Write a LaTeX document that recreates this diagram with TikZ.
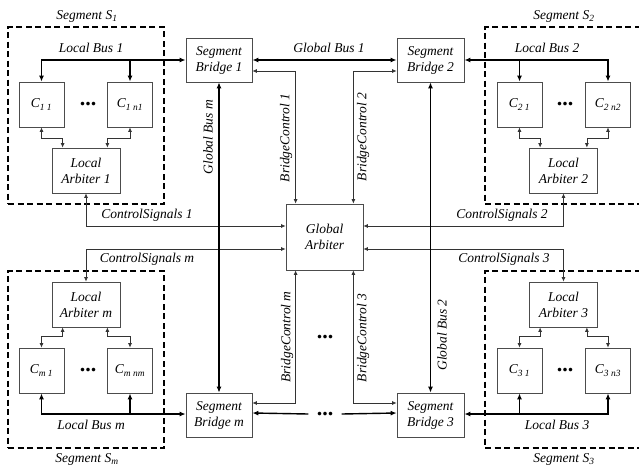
\documentclass[tikz,border=0pt]{standalone}
\usepackage{fontspec}
\setmainfont{Liberation Serif}
\usetikzlibrary{arrows.meta,calc}
\begin{document}
\begin{tikzpicture}[x=1pt,y=-1pt,
  font=\fontsize{13.5}{16}\selectfont\itshape,
  box/.style={draw=black!70, line width=0.8pt, align=center, inner sep=0pt},
  cbox/.style={box, minimum width=45pt, minimum height=45pt},
  labox/.style={box, minimum width=68pt, minimum height=45pt},
  sbox/.style={box, minimum width=66pt, minimum height=44pt},
  seg/.style={draw, line width=1.4pt, dash pattern=on 6pt off 3.5pt, inner sep=0pt},
  lbl/.style={inner sep=1pt},
  thickln/.style={line width=1.4pt, >={Latex[length=6pt,width=5pt]}},
  gbus/.style={line width=1.1pt, >={Latex[length=6pt,width=5pt]}},
  thinln/.style={line width=0.7pt, draw=black!80, >={Latex[length=4.5pt,width=4pt]}},
  dotsn/.style={inner sep=0pt, font=\fontsize{22}{22}\selectfont\bfseries\upshape}
]
\useasboundingbox (0,0) rectangle (639,466);
\clip (0,0) rectangle (639,466);

% segment frames
\node[seg, minimum width=156pt, minimum height=177pt] (S1) at (86,115.5) {};
\node[seg, minimum width=165pt, minimum height=177pt] (S2) at (567.5,115.5) {};
\node[seg, minimum width=156pt, minimum height=177pt] (Sm) at (86,359.5) {};
\node[seg, minimum width=165pt, minimum height=177pt] (S3) at (567.5,359.5) {};
\node[lbl] (S1l) at (87,16) {Segment S\textsubscript{1}};
\node[lbl] (S2l) at (564,16) {Segment S\textsubscript{2}};
\node[lbl] (Sml) at (87,459) {Segment S\textsubscript{m}};
\node[lbl] (S3l) at (564,459) {Segment S\textsubscript{3}};

% segment 1
\node[cbox] (C11) at (41.5,104.5) {C\textsubscript{1 1}};
\node[cbox] (C1n) at (130,104.5) {C\textsubscript{1 n1}};
\node[dotsn] (d1) at (88,104) {...};
\node[labox] (LA1) at (86,170.5) {Local\\Arbiter 1};
% segment 2
\node[cbox] (C21) at (519.5,104.5) {C\textsubscript{2 1}};
\node[cbox] (C2n) at (608,104.5) {C\textsubscript{2 n2}};
\node[dotsn] (d2) at (565,104) {...};
\node[labox] (LA2) at (563.5,170.5) {Local\\Arbiter 2};
% segment m
\node[labox] (LAm) at (86,304.5) {Local\\Arbiter m};
\node[cbox] (Cm1) at (41.5,370.5) {C\textsubscript{m 1}};
\node[cbox] (Cmn) at (130,370.5) {C\textsubscript{m nm}};
\node[dotsn] (dm) at (88,370) {...};
% segment 3
\node[labox] (LA3) at (563.5,304.5) {Local\\Arbiter 3};
\node[cbox] (C31) at (519.5,370.5) {C\textsubscript{3 1}};
\node[cbox] (C3n) at (608,370.5) {C\textsubscript{3 n3}};
\node[dotsn] (d3) at (565,370) {...};

% bridges and arbiter
\node[sbox] (SB1) at (219,60) {Segment\\Bridge 1};
\node[sbox, minimum width=67pt] (SB2) at (430.5,60) {Segment\\Bridge 2};
\node[sbox] (SBm) at (219,415) {Segment\\Bridge m};
\node[sbox, minimum width=67pt] (SB3) at (430.5,415) {Segment\\Bridge 3};
\node[box, minimum width=77pt, minimum height=66pt] (GA) at (324.5,237) {Global\\Arbiter};
\node[dotsn] (dc) at (325,337) {...};
\node[dotsn, minimum width=33pt] (db) at (325,414) {...};

% local buses
\draw[thickln,<->] (C11.north) -- (C11.north |- SB1.west) -- (SB1.west);
\draw[thickln,->] (C1n.north |- SB1.west) -- (C1n.north);
\draw[thickln,<->] (C2n.north) -- (C2n.north |- SB2.east) -- (SB2.east);
\draw[thickln,->] (C21.north |- SB2.east) -- (C21.north);
\draw[thickln,<->] (Cm1.south) -- ($(Cm1.south |- SBm.west)+(0,-1)$) -- ($(SBm.west)+(0,-1)$);
\draw[thickln,->] ($(Cmn.south |- SBm.west)+(0,-1)$) -- (Cmn.south);
\draw[thickln,<->] (C3n.south) -- ($(C3n.south |- SB3.east)+(0,-1)$) -- ($(SB3.east)+(0,-1)$);
\draw[thickln,->] ($(C31.south |- SB3.east)+(0,-1)$) -- (C31.south);
\node[lbl] (lb1) at (91,48) {Local Bus 1};
\node[lbl] (lb2) at (547,48) {Local Bus 2};
\node[lbl] (lbm) at (91,425) {Local Bus m};
\node[lbl] (lb3) at (557,425) {Local Bus 3};

% C <-> local arbiter
\draw[thinln,<->] (C11.south) -- ++(0,11) -| ($(LA1.north west)+(11,0)$);
\draw[thinln,<->] (C1n.south) -- ++(0,11) -| ($(LA1.north east)+(-13,0)$);
\draw[thinln,<->] (C21.south) -- ++(0,11) -| ($(LA2.north west)+(11,0)$);
\draw[thinln,<->] (C2n.south) -- ++(0,11) -| ($(LA2.north east)+(-11,0)$);
\draw[thinln,<->] (Cm1.north) -- ++(0,-11) -| ($(LAm.south west)+(11,0)$);
\draw[thinln,<->] (Cmn.north) -- ++(0,-11) -| ($(LAm.south east)+(-13,0)$);
\draw[thinln,<->] (C31.north) -- ++(0,-11) -| ($(LA3.south west)+(11,0)$);
\draw[thinln,<->] (C3n.north) -- ++(0,-11) -| ($(LA3.south east)+(-11,0)$);

% control signals
\draw[thinln,<->] (LA1.south) |- ($(GA.west)+(0,-11)$);
\draw[thinln,<->] (LAm.north) |- ($(GA.west)+(0,12)$);
\draw[thinln,<->] (LA2.south) |- ($(GA.east)+(0,-11)$);
\draw[thinln,<->] (LA3.north) |- ($(GA.east)+(0,12)$);
\node[lbl] (cs1) at (147,215) {ControlSignals 1};
\node[lbl] (cs2) at (502,215) {ControlSignals 2};
\node[lbl] (csm) at (147,259) {ControlSignals m};
\node[lbl] (cs3) at (504,259) {ControlSignals 3};

% bridge control
\draw[thinln,<->] ($(SB1.east)+(0,11)$) -| ($(GA.north west)+(10,0)$);
\draw[thinln,<->] ($(SB2.west)+(0,11)$) -| ($(GA.north east)+(-10,0)$);
\draw[thinln,<->] ($(SBm.east)+(0,-12)$) -| ($(GA.south west)+(10,0)$);
\draw[thinln,<->] ($(SB3.west)+(0,-12)$) -| ($(GA.south east)+(-10,0)$);
\node[lbl, rotate=90] (bc1) at (286,138) {BridgeControl 1};
\node[lbl, rotate=90] (bc2) at (363,137) {BridgeControl 2};
\node[lbl, rotate=90] (bcm) at (287,337) {BridgeControl m};
\node[lbl, rotate=90] (bc3) at (363,338) {BridgeControl 3};

% global buses
\draw[thickln,<->] (SB1.east) -- (SB2.west);
\node[lbl] (gb1) at (329,48) {Global Bus 1};
\draw[gbus,<->] (SB1.south) -- (SBm.north);
\draw[gbus,<->] (SB2.south) -- (SB3.north);
\node[lbl, rotate=90] (gbm) at (208,137) {Global Bus m};
\node[lbl, rotate=90] (gb2) at (442,335) {Global Bus 2};
\draw[thickln,->] (db.west) -- ($(SBm.east)+(0,-2)$);
\draw[thickln,->] (db.east) -- ($(SB3.west)+(0,-2)$);
\end{tikzpicture}
\end{document}
